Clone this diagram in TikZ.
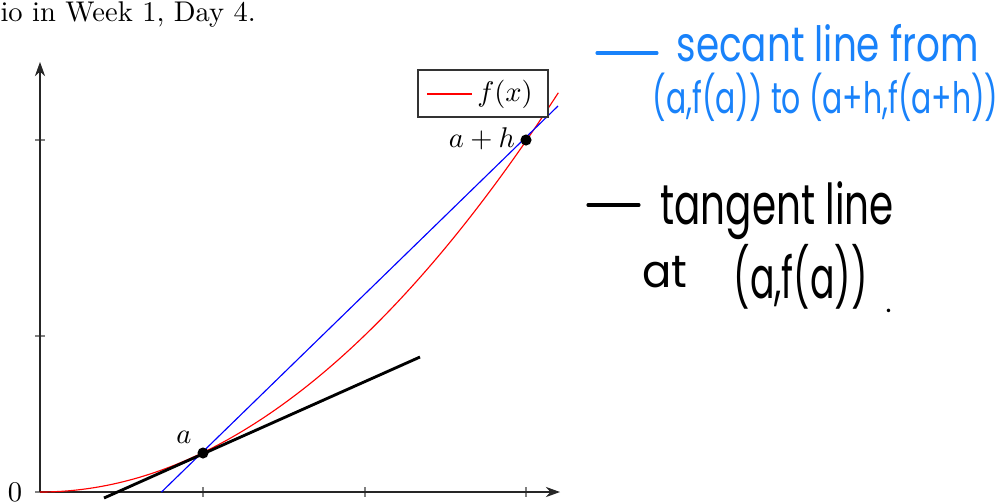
\documentclass[tikz,border=0pt]{standalone}
\usepackage{fontspec}
\newfontfamily\hand{Poppins}
\usetikzlibrary{arrows.meta}
\definecolor{hblue}{RGB}{25,130,250}
\newcommand\fitw[3]{\scalebox{1}[#3]{\resizebox{#1}{!}{#2}}}
\begin{document}
\begin{tikzpicture}[x=0.3509pt,y=-0.3509pt,
  axisline/.style={line width=0.4pt, draw=black!85, -{Stealth[length=5pt,width=3.6pt]}},
  tickmark/.style={draw=black!50, line width=0.4pt},
  dot/.style={circle, fill=black, inner sep=0pt, minimum size=3.9pt},
  lbl/.style={inner sep=0pt},
  hw/.style={inner sep=0pt, anchor=base west},
  hdash/.style={line width=1.1pt, line cap=round}]
\useasboundingbox (0,0) rectangle (1006,501);
% caption fragment
\node[anchor=base west, inner sep=0pt] (cap) at (0,21) {io in Week 1, Day 4.};
% axes
\coordinate (O) at (40,492);
\coordinate (xend) at (560,492);
\coordinate (yend) at (40,62);
\foreach \t in {203,365,526} \draw[tickmark] (\t,487) -- (\t,497);
\foreach \t in {140,336,492} \draw[tickmark] (35,\t) -- (45,\t);
\draw[axisline] (O) -- (xend);
\draw[axisline] (O) -- (yend);
\node[lbl] (zero) at (15,492) {$0$};
% curves
\draw[red, line width=0.4pt] plot[domain=0:3.2, samples=100] ({40+162*\x},{492-39*\x*\x});
\coordinate (s1) at (161.5,492);
\coordinate (s2) at (558,106);
\draw[blue, line width=0.4pt] (s1) -- (s2);
\coordinate (t1) at (104,498);
\coordinate (t2) at (420,357);
\draw[black, line width=1pt] (t1) -- (t2);
% points
\node[dot] (pa) at (203,453) {};
\node[dot] (pah) at (526,140) {};
\node[lbl] (la) at (184,437) {$a$};
\node[lbl] (lah) at (482,139) {$a+h$};
% legend
\node[draw=black!80, fill=white, line width=0.4pt, minimum width=45.6pt, minimum height=16.5pt, inner sep=0pt] (leg) at (483,93.5) {};
\coordinate (lg1) at (427,94);
\coordinate (lg2) at (472,94);
\draw[red, line width=0.4pt] (lg1) -- (lg2);
\node[lbl] (fx) at (505,94) {$f(x)$};
% handwritten notes
\coordinate (bd1) at (597,53);
\coordinate (bd2) at (657,53);
\draw[hblue, hdash] (bd1) -- (bd2);
\node[hw, text=hblue] (sec1) at (676,61) {\fitw{106pt}{\hand secant line from}{1.3}};
\node[hw, text=hblue] (sec2) at (652,113) {\fitw{121.4pt}{\hand (a,f(a)) to (a+h,f(a+h))}{1.45}};
\coordinate (kd1) at (588,205);
\coordinate (kd2) at (639,205);
\draw[black, hdash] (kd1) -- (kd2);
\node[hw] (tan1) at (660,224) {\fitw{81.8pt}{\hand tangent line}{1.45}};
\node[hw] (tan2) at (642,287) {\fitw{15.8pt}{\hand at}{1.05}};
\node[hw] (tan3) at (733,298) {\fitw{47pt}{\hand (a,f(a))}{1.6}};
\node[hw] (tan4) at (885,312) {\hand .};
\end{tikzpicture}
\end{document}
